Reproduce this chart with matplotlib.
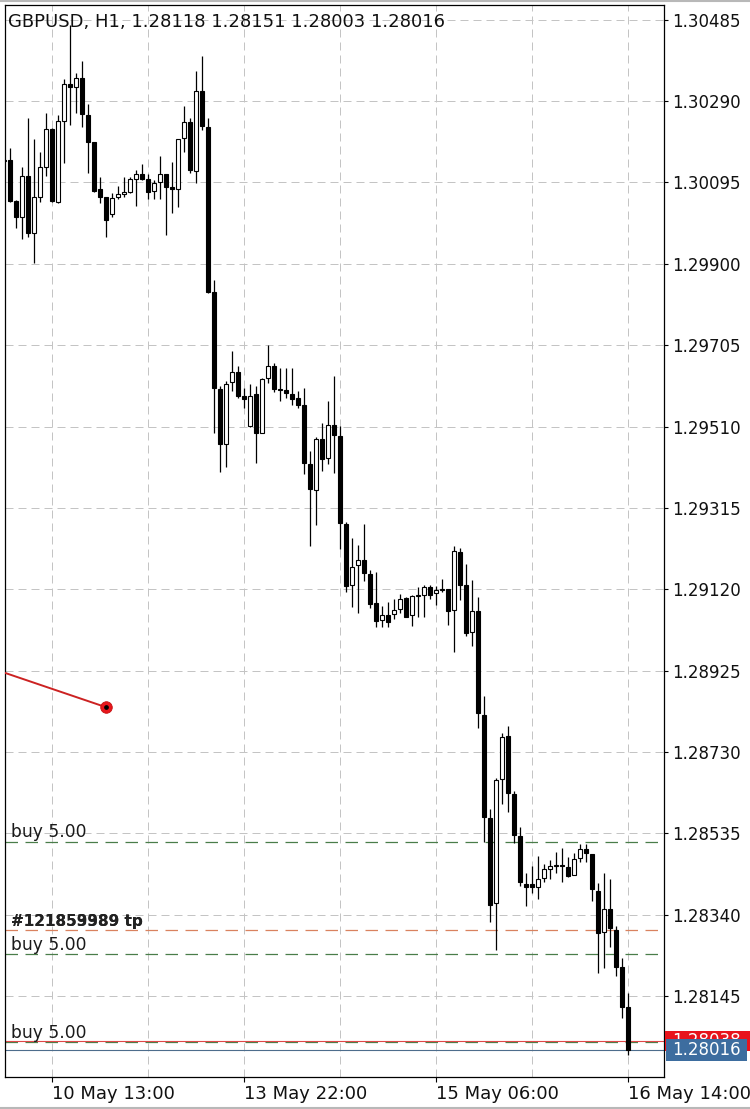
import numpy as np
import matplotlib
matplotlib.use("Agg")
import matplotlib.pyplot as plt
from matplotlib.lines import Line2D
from matplotlib.patches import Rectangle

plt.rcParams['font.family'] = ['DejaVu Sans']

# ---------------- data ----------------
symbol = "GBPUSD"
timeframe = "H1"
first_bar = -1  # index of first (partly visible) bar; bar 103 = 16 May 14:00

opens = [
    1.30147,
    1.30149, 1.30051, 1.30013, 1.30110, 1.29973, 1.30061, 1.30133, 1.30222, 1.30048, 1.30243,
    1.30330, 1.30325, 1.30345, 1.30256, 1.30191, 1.30079, 1.30060, 1.30019, 1.30061, 1.30067,
    1.30071, 1.30104, 1.30115, 1.30103, 1.30074, 1.30095, 1.30115, 1.30084, 1.30080, 1.30201,
    1.30239, 1.30123, 1.30314, 1.30229, 1.29833, 1.29600, 1.29469, 1.29617, 1.29641, 1.29583,
    1.29512, 1.29587, 1.29495, 1.29626, 1.29654, 1.29600, 1.29598, 1.29587, 1.29578, 1.29561,
    1.29420, 1.29357, 1.29480, 1.29434, 1.29513, 1.29487, 1.29276, 1.29129, 1.29177, 1.29189,
    1.29157, 1.29086, 1.29046, 1.29058, 1.29060, 1.29072, 1.29099, 1.29058, 1.29103, 1.29107,
    1.29125, 1.29110, 1.29118, 1.29120, 1.29070, 1.29209, 1.29130, 1.29017, 1.29067, 1.28819,
    1.28571, 1.28367, 1.28664, 1.28768, 1.28629, 1.28529, 1.28413, 1.28413, 1.28406, 1.28427,
    1.28450, 1.28457, 1.28459, 1.28455, 1.28435, 1.28475, 1.28497, 1.28485, 1.28397, 1.28299,
    1.28353, 1.28303, 1.28214, 1.28118]

highs = [
    1.30154,
    1.30177, 1.30052, 1.30133, 1.30249, 1.30199, 1.30167, 1.30261, 1.30225, 1.30256, 1.30343,
    1.30473, 1.30358, 1.30386, 1.30282, 1.30193, 1.30108, 1.30061, 1.30069, 1.30087, 1.30108,
    1.30109, 1.30125, 1.30139, 1.30116, 1.30100, 1.30159, 1.30116, 1.30145, 1.30200, 1.30278,
    1.30249, 1.30363, 1.30398, 1.30250, 1.29861, 1.29607, 1.29618, 1.29692, 1.29655, 1.29602,
    1.29612, 1.29606, 1.29626, 1.29705, 1.29662, 1.29651, 1.29651, 1.29651, 1.29595, 1.29602,
    1.29451, 1.29484, 1.29519, 1.29572, 1.29631, 1.29511, 1.29280, 1.29242, 1.29226, 1.29276,
    1.29166, 1.29161, 1.29080, 1.29089, 1.29096, 1.29109, 1.29102, 1.29106, 1.29126, 1.29130,
    1.29130, 1.29127, 1.29144, 1.29121, 1.29224, 1.29218, 1.29180, 1.29142, 1.29101, 1.28865,
    1.28593, 1.28667, 1.28775, 1.28791, 1.28636, 1.28551, 1.28439, 1.28457, 1.28481, 1.28461,
    1.28471, 1.28489, 1.28499, 1.28479, 1.28487, 1.28509, 1.28509, 1.28486, 1.28415, 1.28439,
    1.28425, 1.28313, 1.28235, 1.28151]

lows = [
    1.30142,
    1.30047, 1.29987, 1.29960, 1.29964, 1.29901, 1.30048, 1.30111, 1.30048, 1.30046, 1.30141,
    1.30233, 1.30261, 1.30229, 1.30118, 1.30072, 1.30045, 1.29965, 1.30013, 1.30055, 1.30061,
    1.30069, 1.30039, 1.30100, 1.30055, 1.30055, 1.30055, 1.29968, 1.30021, 1.30036, 1.30169,
    1.30118, 1.30093, 1.30221, 1.29830, 1.29495, 1.29402, 1.29414, 1.29595, 1.29578, 1.29555,
    1.29510, 1.29422, 1.29494, 1.29615, 1.29593, 1.29572, 1.29579, 1.29562, 1.29554, 1.29396,
    1.29224, 1.29274, 1.29404, 1.29421, 1.29399, 1.29216, 1.29114, 1.29078, 1.29064, 1.29139,
    1.29075, 1.29030, 1.29030, 1.29030, 1.29048, 1.29064, 1.29053, 1.29033, 1.29054, 1.29054,
    1.29096, 1.29083, 1.29114, 1.29035, 1.28970, 1.29093, 1.29008, 1.28984, 1.28788, 1.28513,
    1.28322, 1.28255, 1.28605, 1.28587, 1.28511, 1.28409, 1.28361, 1.28391, 1.28378, 1.28418,
    1.28425, 1.28439, 1.28419, 1.28431, 1.28434, 1.28465, 1.28465, 1.28373, 1.28201, 1.28211,
    1.28263, 1.28194, 1.28092, 1.28003]

closes = [
    1.30149,
    1.30051, 1.30013, 1.30110, 1.29973, 1.30060, 1.30131, 1.30222, 1.30051, 1.30242, 1.30330,
    1.30325, 1.30345, 1.30258, 1.30193, 1.30075, 1.30061, 1.30005, 1.30057, 1.30067, 1.30071,
    1.30103, 1.30115, 1.30104, 1.30073, 1.30094, 1.30115, 1.30085, 1.30080, 1.30199, 1.30239,
    1.30125, 1.30314, 1.30231, 1.29833, 1.29602, 1.29469, 1.29612, 1.29641, 1.29584, 1.29577,
    1.29583, 1.29495, 1.29623, 1.29654, 1.29601, 1.29598, 1.29591, 1.29577, 1.29562, 1.29422,
    1.29360, 1.29480, 1.29433, 1.29513, 1.29489, 1.29278, 1.29128, 1.29173, 1.29189, 1.29158,
    1.29085, 1.29045, 1.29058, 1.29041, 1.29070, 1.29097, 1.29054, 1.29103, 1.29105, 1.29125,
    1.29107, 1.29118, 1.29120, 1.29069, 1.29211, 1.29131, 1.29014, 1.29067, 1.28823, 1.28573,
    1.28363, 1.28663, 1.28765, 1.28631, 1.28530, 1.28418, 1.28407, 1.28407, 1.28425, 1.28449,
    1.28456, 1.28459, 1.28457, 1.28433, 1.28473, 1.28497, 1.28487, 1.28401, 1.28297, 1.28353,
    1.28307, 1.28215, 1.28119, 1.28016]

y_ticks = [1.28145, 1.28340, 1.28535, 1.28730, 1.28925, 1.29120, 1.29315,
           1.29510, 1.29705, 1.29900, 1.30095, 1.30290, 1.30485]
grid_bars = [7, 23, 39, 55, 71, 87, 103]
tick_bars = [7, 39, 71, 103]
tick_labels = ["10 May 13:00", "13 May 22:00", "15 May 06:00", "16 May 14:00"]

buy_levels = [1.28515, 1.28245, 1.28035]
buy_text = "buy 5.00"
tp_level = 1.28302
tp_texts = ["#121859389 tp", "#121853989 tp"]
ask_price = 1.28038
bid_price = closes[-1]
closed_trade_bars = [-10, 16]
closed_trade_prices = [1.28964, 1.28837]

y_range = (1.279508, 1.305204)
x_range = (-0.967, 108.95)

# ---------------- figure ----------------
W, H = 750, 1109
fig = plt.figure(figsize=(W / 100, H / 100), dpi=100)
left_px, right_px, top_px, bot_px = 4.5, 664, 5, 1077
ax = fig.add_axes([left_px / W, (H - bot_px) / H,
                   (right_px - left_px) / W, (bot_px - top_px) / H])
ax.set_xlim(*x_range)
ax.set_ylim(*y_range)

bars = np.arange(first_bar, first_bar + len(opens))
o = np.array(opens); h = np.array(highs); l = np.array(lows); c = np.array(closes)

# grid
grid_kw = dict(color='#c4c4c4', lw=0.72, linestyle=(0, (8, 5)))
ax.set_yticks(y_ticks)
ax.set_yticklabels([f"{v:.5f}" for v in y_ticks])
ax.set_xticks(tick_bars)
ax.set_xticklabels(tick_labels)
ax.set_xticks([b for b in grid_bars if b not in tick_bars], minor=True)
ax.grid(True, axis='y', which='major', **grid_kw)
ax.grid(True, axis='x', which='both', **grid_kw)
ax.set_axisbelow(True)

# candles
ax.vlines(bars, l, h, color='black', lw=0.9, zorder=3)
up = c > o
body_low = np.minimum(o, c)
body_h = np.maximum(np.abs(c - o), 1e-6)
ax.bar(bars, body_h, bottom=body_low, width=0.62,
       color=np.where(up, 'white', 'black'), edgecolor='black', lw=0.8, zorder=4)

# trade level lines
for lvl in buy_levels:
    ax.axhline(lvl, color='#4a7d4a', lw=0.9, linestyle=(0, (10, 6)), zorder=2)
ax.axhline(tp_level, color='#d9825f', lw=0.9, linestyle=(0, (10, 6)), zorder=2)
ax.axhline(ask_price, color='#e04848', lw=0.8, zorder=2)
ax.axhline(bid_price, color='#4d6d8c', lw=0.8, zorder=2)

# closed trade line
ax.plot(closed_trade_bars, closed_trade_prices, color='#cc2222', lw=1.4, zorder=5)
ax.plot(closed_trade_bars[-1], closed_trade_prices[-1], 'o', ms=8.3,
        mfc='#e8161c', mec='#c41010', mew=0.6, zorder=6)
ax.plot(closed_trade_bars[-1], closed_trade_prices[-1], 'o', ms=2.4,
        mfc='black', mec='black', zorder=7)

# level labels
ytr = ax.get_yaxis_transform()
tx = (11 - left_px) / (right_px - left_px)
for lvl in buy_levels:
    ax.annotate(buy_text, xy=(tx, lvl), xycoords=ytr, xytext=(0, 3.0),
                textcoords='offset points', va='baseline', ha='left',
                fontsize=12.3, color='#1a1a1a', zorder=8)
for t in tp_texts:
    ax.annotate(t, xy=(tx, tp_level), xycoords=ytr, xytext=(0, 3.0),
                textcoords='offset points', va='baseline', ha='left',
                fontsize=11, fontweight='bold', color='#222222', zorder=8)

# spines / ticks
for s in ax.spines.values():
    s.set_color('black')
    s.set_linewidth(0.9)
ax.yaxis.tick_right()
ax.tick_params(axis='y', which='major', direction='out', length=3.0, width=0.8,
               pad=2.6, labelsize=12, labelcolor='#111111')
ax.tick_params(axis='x', which='major', direction='out', length=3.6, width=0.8,
               pad=2.0, labelsize=13, labelcolor='#111111')
ax.tick_params(axis='x', which='minor', length=0)
for lbl in ax.get_xticklabels():
    lbl.set_ha('left')

# price boxes on the right axis
xb0 = 1.0 + 1.0 / (right_px - left_px)
ax.add_patch(Rectangle((xb0, ask_price - 0.00024), (W - right_px) / (right_px - left_px), 0.00048,
                       transform=ytr, clip_on=False, facecolor='#e8141c', edgecolor='none', zorder=9))
ax.text((672 - left_px) / (right_px - left_px), ask_price, f"{ask_price:.5f}",
        transform=ytr, va='center', ha='left', fontsize=12, color='white', zorder=10, clip_on=False)
ax.add_patch(Rectangle((xb0 + 1.0 / (right_px - left_px), bid_price - 0.00026),
                       (747.5 - 666) / (right_px - left_px), 0.00051,
                       transform=ytr, clip_on=False, facecolor='#3d6d9f', edgecolor='none', zorder=11))
ax.text((672 - left_px) / (right_px - left_px), bid_price, f"{bid_price:.5f}",
        transform=ytr, va='center', ha='left', fontsize=12, color='white', zorder=12, clip_on=False)

# title (symbol, timeframe, last bar OHLC)
title = f"{symbol}, {timeframe}, {opens[-1]:.5f} {highs[-1]:.5f} {lows[-1]:.5f} {closes[-1]:.5f}"
fig.text(8.5 / W, (H - 26.7) / H, title, fontsize=13, ha='left', va='baseline', color='#111111')

# figure border lines
fig.add_artist(Line2D([0, 1], [1 - 1.2 / H] * 2, transform=fig.transFigure, color='#b8b8b8', lw=1.5))
fig.add_artist(Line2D([0, 1], [0.8 / H] * 2, transform=fig.transFigure, color='#b8b8b8', lw=1.5))

fig.savefig("out.png", dpi=100)
